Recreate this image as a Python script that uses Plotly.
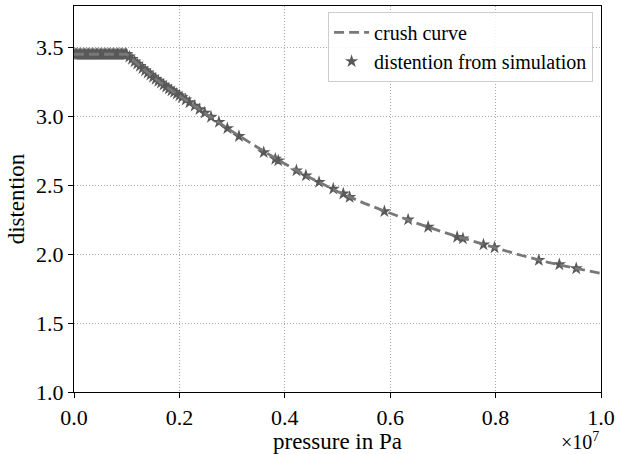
import plotly.graph_objects as go

# crush curve (pressure in MPa, distention)
curve_p_mpa = [0.0, 1.0, 1.25, 1.5, 1.75, 2.0, 2.5, 3.0, 3.5, 4.0, 4.5, 5.0, 5.5, 6.0,
               6.5, 7.0, 7.5, 8.0, 8.5, 9.0, 9.5, 10.0]
curve_alpha = [3.45, 3.45, 3.364, 3.285, 3.214, 3.15, 3.02, 2.89, 2.77, 2.655, 2.55, 2.455,
               2.37, 2.295, 2.225, 2.16, 2.10, 2.045, 1.99, 1.94, 1.898, 1.86]

# simulation points (pressure in MPa, distention)
plateau_p_mpa = [0.0, 0.025, 0.05, 0.075, 0.1, 0.125, 0.15, 0.175, 0.2, 0.225, 0.25, 0.275,
                 0.3, 0.325, 0.35, 0.375, 0.4, 0.425, 0.45, 0.475, 0.5, 0.525, 0.55, 0.575,
                 0.6, 0.625, 0.65, 0.675, 0.7, 0.725, 0.75, 0.775, 0.8, 0.825, 0.85, 0.875,
                 0.9, 0.925, 0.95, 0.975, 1.0]
plateau_alpha = [3.45] * len(plateau_p_mpa)

sim_p_mpa = [1.05, 1.10, 1.15, 1.20, 1.25, 1.30, 1.35, 1.40, 1.45, 1.50, 1.55, 1.60, 1.65,
             1.70, 1.75, 1.80, 1.85, 1.90, 1.95, 2.00,
             2.05, 2.12, 2.19, 2.29, 2.38, 2.48, 2.60, 2.75, 2.91, 3.13,
             3.60, 3.82, 3.875, 4.22, 4.40, 4.65, 4.92, 5.11, 5.23, 5.89, 6.34, 6.72,
             7.27, 7.38, 7.77, 7.98, 8.82, 9.21, 9.53]
sim_alpha = [3.432, 3.415, 3.397, 3.38, 3.364, 3.348, 3.332, 3.316, 3.30, 3.285, 3.27, 3.256,
             3.242, 3.228, 3.214, 3.20, 3.187, 3.175, 3.162, 3.15,
             3.137, 3.12, 3.10, 3.075, 3.05, 3.025, 2.995, 2.958, 2.912, 2.855,
             2.738, 2.690, 2.678, 2.606, 2.570, 2.522, 2.474, 2.438, 2.413, 2.310, 2.250,
             2.197, 2.124, 2.113, 2.069, 2.048, 1.956, 1.925, 1.896]

x_tickvals = [0, 2e6, 4e6, 6e6, 8e6, 1e7]
x_ticktext = ["0.0", "0.2", "0.4", "0.6", "0.8", "1.0"]
y_tickvals = [1.0, 1.5, 2.0, 2.5, 3.0, 3.5]
y_ticktext = ["1.0", "1.5", "2.0", "2.5", "3.0", "3.5"]

FONT = '"Liberation Serif", "Times New Roman", Times, serif'

all_p = plateau_p_mpa + sim_p_mpa
all_alpha = plateau_alpha + sim_alpha

fig = go.Figure()
fig.add_trace(go.Scatter(
    x=[p * 1e6 for p in all_p], y=all_alpha, mode="markers",
    name="distention from simulation",
    marker=dict(symbol="star", size=10, color="#595959", line=dict(width=0)),
))
fig.add_trace(go.Scatter(
    x=[p * 1e6 for p in curve_p_mpa], y=curve_alpha, mode="lines",
    name="crush curve",
    line=dict(color="#787878", width=2.8, dash="10px,5px"),
))

axis_common = dict(
    showline=True, linecolor="black", linewidth=1.2, mirror=True,
    ticks="outside", ticklen=5, tickcolor="black",
    showgrid=True, gridcolor="#a8a8a8", griddash="1px,2px", gridwidth=1,
    zeroline=False,
    tickfont=dict(family=FONT, size=22, color="black"),
)

fig.update_xaxes(
    range=[0, 1e7], tickvals=x_tickvals, ticktext=x_ticktext,
    title=dict(text="pressure in Pa", font=dict(family=FONT, size=23, color="black"), standoff=2),
    **axis_common,
)
fig.update_yaxes(
    range=[1.0, 3.8], tickvals=y_tickvals, ticktext=y_ticktext,
    title=dict(text="distention", font=dict(family=FONT, size=23, color="black"), standoff=4),
    **axis_common,
)

fig.add_annotation(
    text="×10<sup>7</sup>", xref="paper", yref="paper", x=1.0, y=-0.09,
    xanchor="right", yanchor="top", showarrow=False,
    font=dict(family=FONT, size=20, color="black"),
)

fig.update_layout(
    width=620, height=454,
    margin=dict(l=74, r=14, t=5, b=62),
    paper_bgcolor="white", plot_bgcolor="white",
    showlegend=True,
    legend=dict(
        x=0.985, y=0.985, xanchor="right", yanchor="top",
        traceorder="reversed",
        bgcolor="rgba(255,255,255,0.85)", bordercolor="#cccccc", borderwidth=1,
        font=dict(family=FONT, size=20, color="black"),
        itemwidth=35,
    ),
    font=dict(family=FONT),
)

fig.write_html("out.html")
